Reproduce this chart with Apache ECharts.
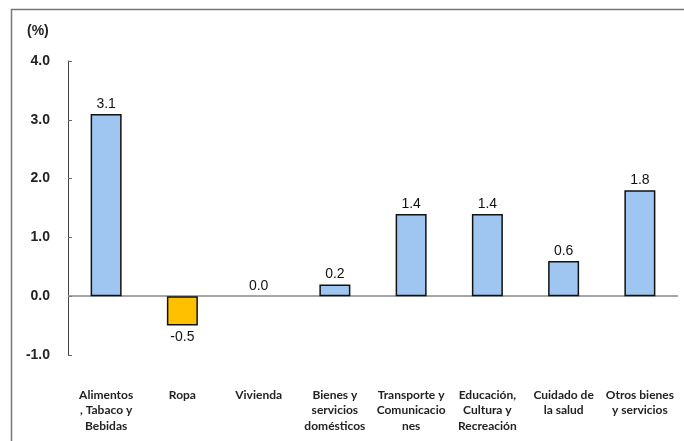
<!DOCTYPE html>
<html>
<head>
<meta charset="utf-8">
<script src="https://cdn.jsdelivr.net/npm/echarts@6/dist/echarts.min.js"></script>
<style>
html,body{margin:0;padding:0;background:#fff;}
#c{width:684px;height:441px;}
</style>
</head>
<body>
<div id="c"></div>
<script>
var categories = [
  "Alimentos\n, Tabaco y\nBebidas",
  "Ropa",
  "Vivienda",
  "Bienes y\nservicios\ndomésticos",
  "Transporte y\nComunicacio\nnes",
  "Educación,\nCultura y\nRecreación",
  "Cuidado de\nla salud",
  "Otros bienes\ny servicios"
];
var values = [3.1, -0.5, 0.0, 0.2, 1.4, 1.4, 0.6, 1.8];
var yTicks = [-1, 0, 1, 2, 3, 4];

var chart = echarts.init(document.getElementById('c'), null, {renderer: 'canvas'});

var seriesData = values.map(function (v) {
  var neg = v < 0;
  return {
    value: v,
    itemStyle: {color: neg ? '#FFC000' : '#9EC6F1', borderWidth: v === 0 ? 0 : 1.5},
    label: {position: neg ? 'bottom' : 'top', distance: neg ? 5 : 3}
  };
});

chart.setOption({
  animation: false,
  backgroundColor: '#fff',
  grid: {left: 68, right: 6, top: 61, bottom: 86, containLabel: false},
  graphic: [
    {
      type: 'rect',
      shape: {x: 11.5, y: 9.5, width: 800, height: 600},
      style: {fill: 'none', stroke: '#777', lineWidth: 1.5},
      silent: true
    },
    {
      type: 'text',
      left: 27,
      top: 24,
      style: {text: '(%)', font: 'bold 14px "Liberation Sans", Arial, sans-serif', fill: '#222'}
    }
  ],
  xAxis: {
    type: 'category',
    data: categories,
    axisLine: {show: false, onZero: false},
    axisTick: {show: false},
    axisLabel: {
      interval: 0,
      margin: 32,
      color: '#222',
      fontFamily: 'Lato, "Open Sans", sans-serif',
      fontWeight: 'bold',
      fontSize: 12,
      lineHeight: 15.5,
      verticalAlign: 'top'
    }
  },
  yAxis: {
    type: 'value',
    min: -1,
    max: 4,
    interval: 1,
    axisLine: {show: true, lineStyle: {color: '#444', width: 1}},
    axisTick: {show: true, inside: true, length: 4, lineStyle: {color: '#666'}},
    splitLine: {show: false},
    axisLabel: {
      margin: 18,
      color: '#222',
      fontFamily: '"Liberation Sans", Arial, sans-serif',
      fontWeight: 'bold',
      fontSize: 14,
      formatter: function (v) { return yTicks.indexOf(v) >= 0 ? v.toFixed(1) : ''; }
    }
  },
  series: [{
    type: 'bar',
    data: seriesData,
    barWidth: 31,
    itemStyle: {borderColor: '#111', borderWidth: 1.5},
    label: {
      show: true,
      distance: 3,
      color: '#111',
      fontFamily: '"Liberation Sans", Arial, sans-serif',
      fontSize: 14,
      formatter: function (p) { return p.value.toFixed(1); }
    },
    markLine: {
      silent: true,
      symbol: 'none',
      label: {show: false},
      lineStyle: {color: '#888', type: 'solid', width: 1.5},
      data: [{yAxis: 0}],
      z: 1
    },
    z: 3
  }]
});
</script>
</body>
</html>
